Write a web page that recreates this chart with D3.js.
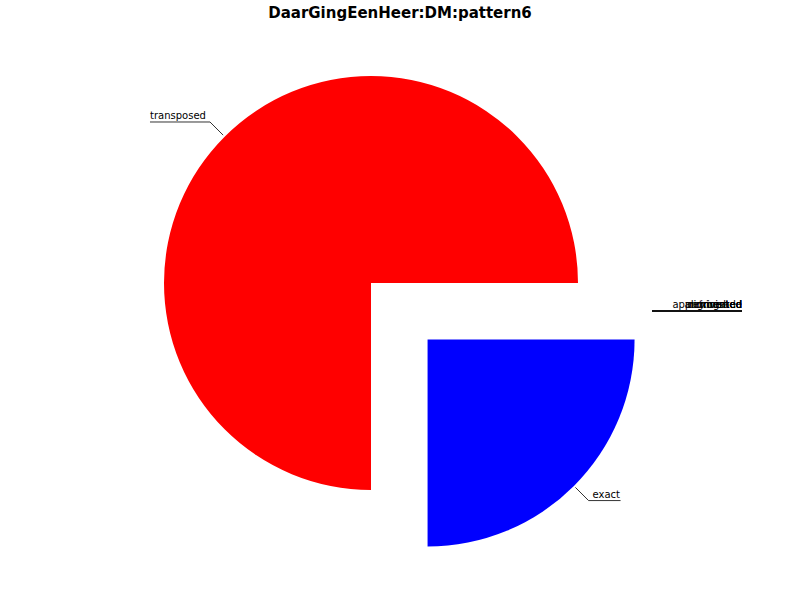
<!DOCTYPE html>
<html><head><meta charset="utf-8">
<script src="https://cdn.jsdelivr.net/npm/d3@7"></script>
<style>body{margin:0;background:#fff}text{font-family:"DejaVu Sans",sans-serif}</style>
</head><body><svg id="c" width="800" height="600"></svg>
<script>
const labels = ["inverted", "retrograde", "augmented", "diminished", "approximated", "exact", "transposed"];
const values = [0, 0, 0, 0, 0, 1, 3];
const colors = ["#ff00ff", "#00ffff", "#ffff00", "#008000", "#800080", "#0000ff", "#ff0000"];

const svg = d3.select("#c");
const cx = 371, cy = 283, r = 207;
svg.append("text").attr("x", 400).attr("y", 18).attr("text-anchor", "middle")
    .style("font-size", "15px").style("font-weight", "bold").text("DaarGingEenHeer:DM:pattern6");

const pie = d3.pie().sort(null).startAngle(Math.PI / 2).endAngle(Math.PI * 2.5);
const arcs = pie(values).map((a, i) => ({...a, i}));
const arc = d3.arc().innerRadius(0).outerRadius(r);
const g = svg.append("g").attr("transform", `translate(${cx},${cy})`);

arcs.forEach(a => {
    const mid = (a.startAngle + a.endAngle) / 2;
    const ex = labels[a.i] === "exact" ? 80 : 0;
    const dx = Math.sin(mid) * ex, dy = -Math.cos(mid) * ex;
    if (a.value > 0) {
        g.append("path").attr("d", arc(a)).attr("fill", colors[a.i])
            .attr("transform", `translate(${dx},${dy})`);
        const s = Math.sin(mid), c = -Math.cos(mid);
        const x1 = dx + s * r * 1.01, y1 = dy + c * r * 1.01;
        const x2 = dx + s * r * 1.1, y2 = dy + c * r * 1.1;
        const x3 = x2 + (s > 0 ? 32 : -60);
        g.append("path").attr("d", `M${x1},${y1}L${x2},${y2}L${x3},${y2}`)
            .attr("fill", "none").attr("stroke", "#000").attr("stroke-width", 0.8);
        g.append("text").attr("x", s > 0 ? x2 + 4 : x3).attr("y", y2 - 3)
            .style("font-size", "10px").text(labels[a.i]);
    } else {
        g.append("path").attr("d", `M${281},${28}L${371},${28}`)
            .attr("fill", "none").attr("stroke", "#000").attr("stroke-width", 0.8);
        g.append("text").attr("x", 371).attr("y", 25).attr("text-anchor", "end")
            .style("font-size", "10px").text(labels[a.i]);
    }
});
</script></body></html>
